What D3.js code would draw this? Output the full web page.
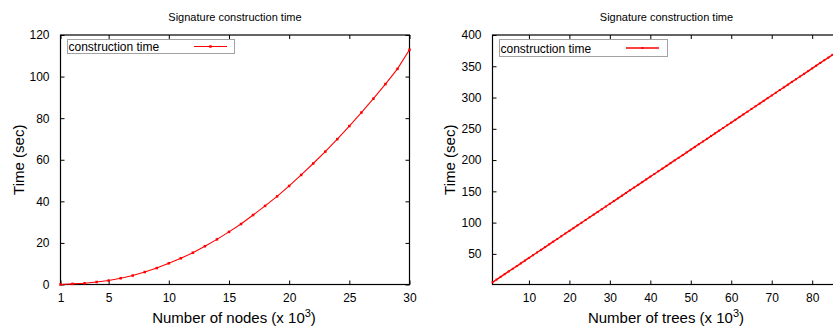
<!DOCTYPE html>
<html>
<head>
<meta charset="utf-8">
<script src="https://cdn.jsdelivr.net/npm/d3@7"></script>
<style>
body { margin: 0; background: #fff; }
text { font-family: "Liberation Sans", Arial, sans-serif; fill: #000; }
</style>
</head>
<body>
<svg id="chart" width="833" height="328"></svg>
<script>
// left panel: time vs number of nodes (x 10^3)
var nodes = d3.range(1, 31);
var nodeTimes = [0.0, 0.3, 0.6, 1.2, 1.9, 3.0, 4.3, 6.0, 7.9, 10.2, 12.6, 15.3, 18.4, 21.7, 25.3,
    29.1, 33.4, 37.8, 42.4, 47.4, 52.7, 58.2, 63.9, 69.9, 76.2, 82.7, 89.4, 96.4, 103.7, 112.9];
var nodeTicksX = [1, 5, 10, 15, 20, 25, 30];
var nodeTicksY = [0, 20, 40, 60, 80, 100, 120];

// right panel: time vs number of trees (x 10^3)
var trees = d3.range(1, 86);
var treeTimes = [4.5, 8.9, 13.2, 17.5, 21.9, 26.2, 30.5, 34.8, 39.2, 43.5,
    47.8, 52.2, 56.5, 60.8, 65.2, 69.5, 73.8, 78.1, 82.5, 86.8,
    91.1, 95.5, 99.8, 104.1, 108.5, 112.8, 117.1, 121.4, 125.8, 130.1,
    134.4, 138.8, 143.1, 147.4, 151.8, 156.1, 160.4, 164.7, 169.1, 173.4,
    177.7, 182.1, 186.4, 190.7, 195.1, 199.4, 203.7, 208.0, 212.4, 216.7,
    221.0, 225.4, 229.7, 234.0, 238.4, 242.7, 247.0, 251.3, 255.7, 260.0,
    264.3, 268.7, 273.0, 277.3, 281.7, 286.0, 290.3, 294.6, 299.0, 303.3,
    307.6, 312.0, 316.3, 320.6, 325.0, 329.3, 333.6, 337.9, 342.3, 346.6,
    350.9, 355.3, 359.6, 363.9, 368.3];
var treeTicksX = [10, 20, 30, 40, 50, 60, 70, 80];
var treeTicksY = [50, 100, 150, 200, 250, 300, 350, 400];

var svg = d3.select("#chart");

function drawPanel(opt) {
    var x = d3.scaleLinear().domain(opt.xDomain).range([opt.left, opt.right]);
    var y = d3.scaleLinear().domain(opt.yDomain).range([opt.bottom, opt.top]);
    var g = svg.append("g");
    var tk = 4;

    // frame
    g.append("rect")
        .attr("x", opt.left).attr("y", opt.top)
        .attr("width", opt.right - opt.left).attr("height", opt.bottom - opt.top)
        .attr("fill", "none").attr("stroke", "#000").attr("stroke-width", 1.2);

    // inward ticks, mirrored top/right
    g.append("g").attr("transform", "translate(0," + opt.bottom + ")")
        .call(d3.axisBottom(x).tickValues(opt.xTicks).tickSizeInner(-tk).tickSizeOuter(0).tickPadding(9))
        .call(function(s) { s.select(".domain").remove(); });
    g.append("g").attr("transform", "translate(0," + opt.top + ")")
        .call(d3.axisTop(x).tickValues(opt.xTicks).tickSizeInner(-tk).tickSizeOuter(0).tickFormat(""))
        .call(function(s) { s.select(".domain").remove(); });
    g.append("g").attr("transform", "translate(" + opt.left + ",0)")
        .call(d3.axisLeft(y).tickValues(opt.yTicks).tickSizeInner(-tk).tickSizeOuter(0).tickPadding(11))
        .call(function(s) { s.select(".domain").remove(); });
    g.append("g").attr("transform", "translate(" + opt.right + ",0)")
        .call(d3.axisRight(y).tickValues(opt.yTicks).tickSizeInner(-tk).tickSizeOuter(0).tickFormat(""))
        .call(function(s) { s.select(".domain").remove(); });
    g.selectAll(".tick text").style("font-size", "12px").style("font-family", "Liberation Sans, Arial, sans-serif").attr("fill", "#111");
    g.selectAll(".tick line").attr("stroke", "#000");

    var mid = (opt.left + opt.right) / 2;
    g.append("text").attr("x", mid).attr("y", 21).attr("text-anchor", "middle")
        .style("font-size", "11px").text("Signature construction time");

    var xl = g.append("text").attr("x", opt.xLabelX).attr("y", 323).attr("text-anchor", "middle")
        .style("font-size", "15px");
    xl.append("tspan").text(opt.xLabel + " (x 10");
    xl.append("tspan").attr("dy", -6).style("font-size", "11px").text("3");
    xl.append("tspan").attr("dy", 6).text(")");

    g.append("text")
        .attr("transform", "translate(" + opt.yLabelX + "," + ((opt.top + opt.bottom) / 2) + ") rotate(-90)")
        .attr("text-anchor", "middle").style("font-size", "15px").text("Time (sec)");

    // legend
    var lg = opt.legend;
    g.append("rect").attr("x", lg.x0).attr("y", lg.y0).attr("width", lg.x1 - lg.x0).attr("height", lg.y1 - lg.y0)
        .attr("fill", "none").attr("stroke", "#444").attr("stroke-width", 1).attr("stroke-dasharray", "1,1");
    g.append("text").attr("x", lg.x0 + 1).attr("y", (lg.y0 + lg.y1) / 2 + 4.5)
        .style("font-size", "12px").text("construction time");
    g.append("line").attr("x1", lg.l0).attr("x2", lg.l1).attr("y1", (lg.y0 + lg.y1) / 2).attr("y2", (lg.y0 + lg.y1) / 2)
        .attr("stroke", "#f00").attr("stroke-width", opt.lw);
    g.append("rect").attr("x", (lg.l0 + lg.l1) / 2 - opt.ms / 2).attr("y", (lg.y0 + lg.y1) / 2 - opt.ms / 2)
        .attr("width", opt.ms).attr("height", opt.ms).attr("fill", "#f00");

    // series
    var pts = opt.xs.map(function(d, i) { return [d, opt.ys[i]]; });
    var line = d3.line().x(function(d) { return x(d[0]); }).y(function(d) { return y(d[1]); });
    g.append("path").datum(pts).attr("d", line)
        .attr("fill", "none").attr("stroke", "#f00").attr("stroke-width", opt.lw);
    g.selectAll(".pt").data(pts).enter().append("rect")
        .attr("x", function(d) { return x(d[0]) - opt.ms / 2; })
        .attr("y", function(d) { return y(d[1]) - opt.ms / 2; })
        .attr("width", opt.ms).attr("height", opt.ms).attr("fill", "#f00");
}

drawPanel({
    xs: nodes, ys: nodeTimes, xDomain: [1, 30], yDomain: [0, 120],
    xTicks: nodeTicksX, yTicks: nodeTicksY,
    left: 60.5, right: 409.5, top: 35, bottom: 284.5,
    xLabel: "Number of nodes", xLabelX: 234, yLabelX: 24, lw: 1.1, ms: 2.5,
    legend: { x0: 67.5, x1: 234.5, y0: 39.5, y1: 53.5, l0: 194, l1: 227 }
});

drawPanel({
    xs: trees, ys: treeTimes, xDomain: [1, 87], yDomain: [1, 400],
    xTicks: treeTicksX, yTicks: treeTicksY,
    left: 492.5, right: 840.5, top: 35, bottom: 284.5,
    xLabel: "Number of trees", xLabelX: 666, yLabelX: 455, lw: 1.4, ms: 2,
    legend: { x0: 499.5, x1: 667.5, y0: 39.5, y1: 56.5, l0: 626, l1: 659 }
});
</script>
</body>
</html>
